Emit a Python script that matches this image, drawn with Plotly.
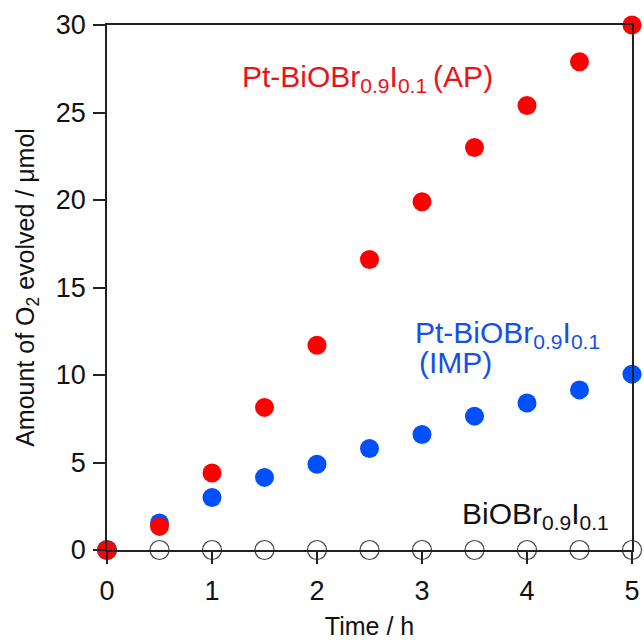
import plotly.graph_objects as go

time_h = [0, 0.5, 1, 1.5, 2, 2.5, 3, 3.5, 4, 4.5, 5]
pt_ap = [0, 1.35, 4.4, 8.15, 11.7, 16.6, 19.9, 23.0, 25.4, 27.9, 30.0]
pt_imp = [0, 1.55, 3.0, 4.15, 4.9, 5.8, 6.6, 7.65, 8.4, 9.15, 10.05]
bare = [0, 0, 0, 0, 0, 0, 0, 0, 0, 0, 0]

FONT = "Liberation Sans, Arial, sans-serif"

fig = go.Figure()
fig.add_trace(go.Scatter(x=time_h, y=bare, mode="markers",
                         marker=dict(size=19, color="white", line=dict(color="#444444", width=1.2)),
                         cliponaxis=False, showlegend=False))
fig.add_trace(go.Scatter(x=time_h, y=pt_imp, mode="markers",
                         marker=dict(size=19, color="#0050ff"),
                         cliponaxis=False, showlegend=False))
fig.add_trace(go.Scatter(x=time_h, y=pt_ap, mode="markers",
                         marker=dict(size=19, color="#ff0000"),
                         cliponaxis=False, showlegend=False))

fig.add_annotation(x=1.27, y=26.95, xref="x", yref="y", xanchor="left", yanchor="middle",
                   text="Pt-BiOBr<sub>0.9</sub>I<sub>0.1</sub>\u2009(AP)", showarrow=False,
                   font=dict(family=FONT, size=30, color="#e8141c"))
fig.add_annotation(x=2.91, y=12.3, xref="x", yref="y", xanchor="left", yanchor="middle",
                   text="Pt-BiOBr<sub>0.9</sub>I<sub>0.1</sub>", showarrow=False,
                   font=dict(family=FONT, size=30, color="#1750e8"))
fig.add_annotation(x=2.95, y=10.7, xref="x", yref="y", xanchor="left", yanchor="middle",
                   text="(IMP)", showarrow=False,
                   font=dict(family=FONT, size=30, color="#1750e8"))
fig.add_annotation(x=3.36, y=2.0, xref="x", yref="y", xanchor="left", yanchor="middle",
                   text="BiOBr<sub>0.9</sub>I<sub>0.1</sub>", showarrow=False,
                   font=dict(family=FONT, size=30, color="#111111"))

axis_common = dict(showline=True, linecolor="#222222", linewidth=1.5, mirror=True,
                   ticks="outside", ticklen=12, tickwidth=1.5, tickcolor="#222222",
                   showgrid=False, zeroline=False, automargin=False,
                   tickfont=dict(family=FONT, size=27, color="#111111"))

fig.update_xaxes(range=[0, 5], tickvals=[0, 1, 2, 3, 4, 5],
                 title=dict(text="Time / h", font=dict(family=FONT, size=25, color="#111111"), standoff=12),
                 ticklabelstandoff=4, **axis_common)
fig.update_yaxes(range=[0, 30], tickvals=[0, 5, 10, 15, 20, 25, 30],
                 title=dict(text="Amount of O<sub>2</sub> evolved / μmol",
                            font=dict(family=FONT, size=25, color="#111111"), standoff=14),
                 ticklabelstandoff=2, **axis_common)

fig.update_layout(width=644, height=644, margin=dict(l=107, r=12, t=25, b=94),
                  plot_bgcolor="white", paper_bgcolor="white")

fig.write_html("out.html")
